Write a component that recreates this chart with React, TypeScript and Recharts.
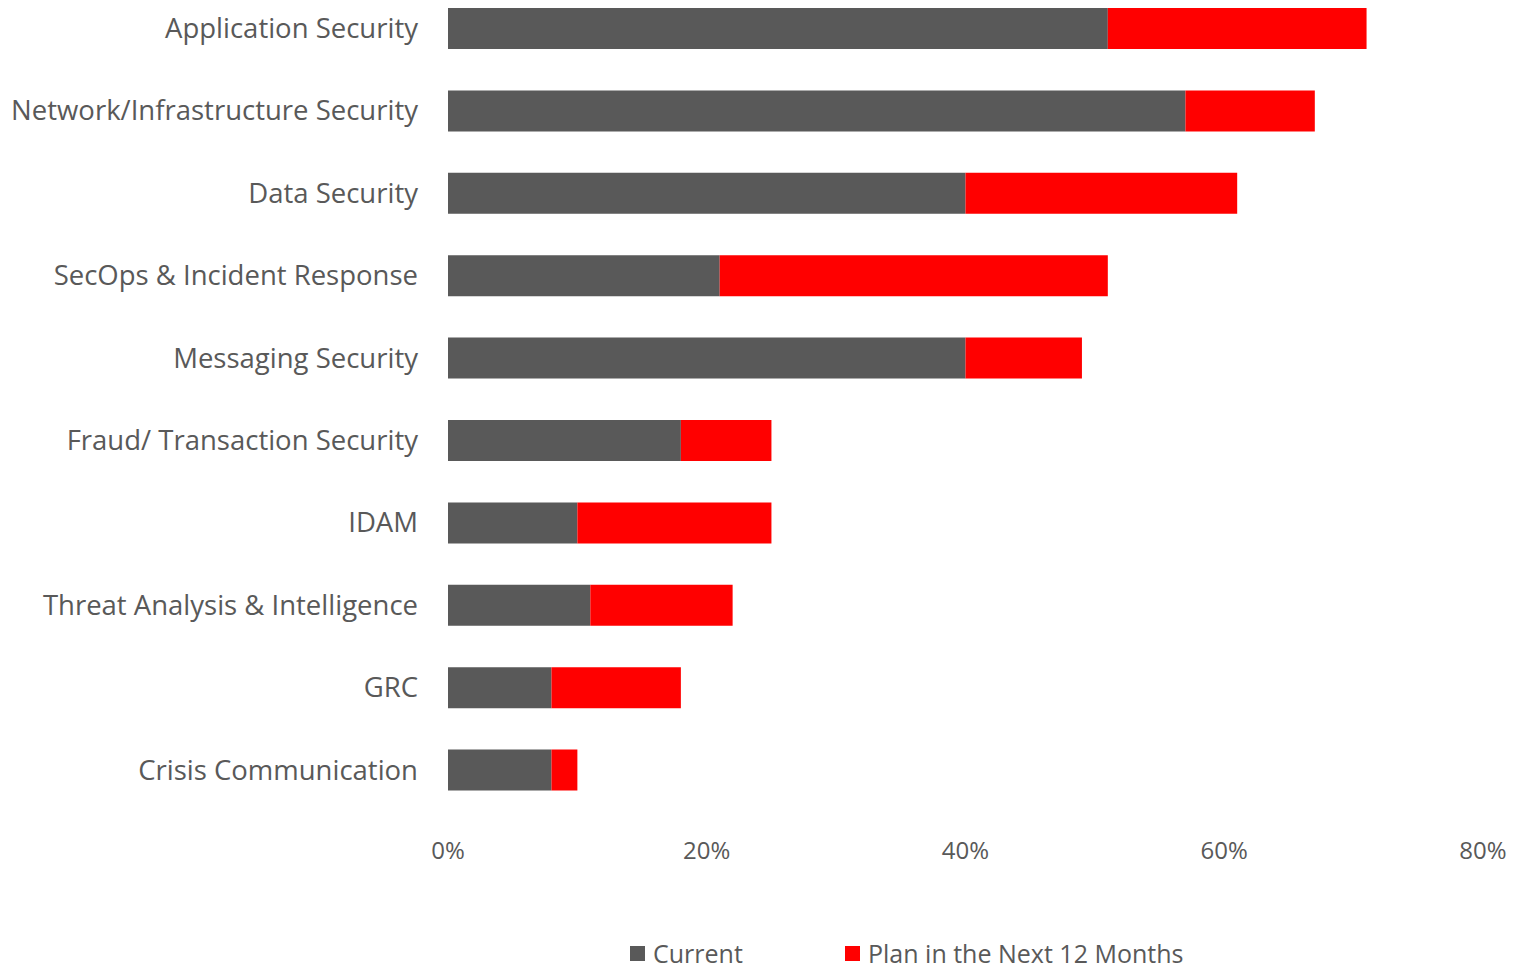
import React from 'react'
import { BarChart, Bar, XAxis, YAxis } from 'recharts'

const categories = [
  'Application Security',
  'Network/Infrastructure Security',
  'Data Security',
  'SecOps & Incident Response',
  'Messaging Security',
  'Fraud/ Transaction Security',
  'IDAM',
  'Threat Analysis & Intelligence',
  'GRC',
  'Crisis Communication',
]

const current = [51, 57, 40, 21, 40, 18, 10, 11, 8, 8]
const planNext12 = [20, 10, 21, 30, 9, 7, 15, 11, 10, 2]

const xTicks = [0, 20, 40, 60, 80]

const GRAY = '#595959'
const RED = '#ff0000'
const FONT = '"Open Sans", "Noto Sans", sans-serif'

const data = categories.map((name, i) => ({
  name,
  current: current[i],
  plan: planNext12[i],
}))

const legendItems = [
  { label: 'Current', color: GRAY, left: 630 },
  { label: 'Plan in the Next 12 Months', color: RED, left: 845 },
]

export default function App() {
  return (
    <div style={{ position: 'absolute', left: 0, top: 0, width: 1514, height: 971, overflow: 'hidden', fontFamily: FONT }}>
      <div style={{ position: 'absolute', left: 0, top: -13 }}>
        <BarChart
          width={1514}
          height={984}
          data={data}
          layout="vertical"
          barSize={41}
          margin={{ top: 0, right: 31, left: 0, bottom: 100 }}
        >
          <XAxis
            type="number"
            domain={[0, 80]}
            ticks={xTicks}
            tickFormatter={(v) => `${v}%`}
            axisLine={false}
            tickLine={false}
            tickMargin={25}
            height={60}
            tick={{ fill: GRAY, fontSize: 24, fontFamily: FONT }}
          />
          <YAxis
            type="category"
            dataKey="name"
            width={448}
            axisLine={false}
            tickLine={false}
            tickMargin={24}
            interval={0}
            tick={{ fill: GRAY, fontSize: 27.5, fontFamily: FONT }}
          />
          <Bar dataKey="current" stackId="a" fill={GRAY} isAnimationActive={false} />
          <Bar dataKey="plan" stackId="a" fill={RED} isAnimationActive={false} />
        </BarChart>
      </div>
      {legendItems.map((item) => (
        <div
          key={item.label}
          style={{
            position: 'absolute',
            left: item.left,
            top: 940,
            height: 26,
            display: 'flex',
            alignItems: 'center',
            color: GRAY,
            fontSize: 25,
            lineHeight: '26px',
            whiteSpace: 'nowrap',
          }}
        >
          <span style={{ display: 'inline-block', width: 15, height: 15, background: item.color, marginRight: 8 }} />
          {item.label}
        </div>
      ))}
    </div>
  )
}
